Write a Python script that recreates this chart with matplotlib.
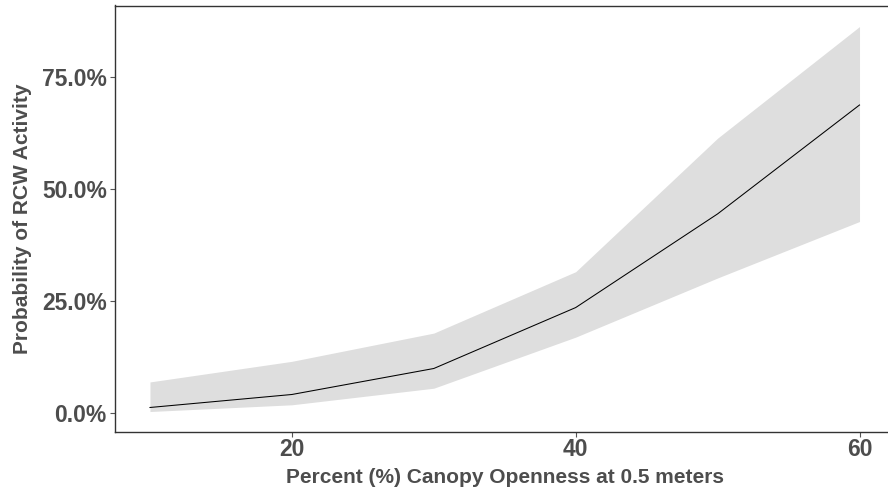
import numpy as np
import matplotlib
matplotlib.use("Agg")
import matplotlib.pyplot as plt
from matplotlib.ticker import PercentFormatter

# predicted probability with confidence band
openness = [10, 20, 30, 40, 50, 60]
prob_fit = [0.013, 0.042, 0.100, 0.236, 0.445, 0.688]
prob_lower = [0.004, 0.019, 0.056, 0.170, 0.302, 0.428]
prob_upper = [0.070, 0.116, 0.179, 0.316, 0.614, 0.863]

x_ticks = [20, 40, 60]
y_ticks = [0.0, 0.25, 0.50, 0.75]

TEXT_GREY = '#4D4D4D'
plt.rcParams['font.family'] = ['Liberation Sans', 'DejaVu Sans']
plt.rcParams['font.weight'] = 'bold'

fig = plt.figure(figsize=(8.88, 4.97), dpi=100)
ax = fig.add_axes([114.5 / 888, 65 / 497, (895 - 114.5) / 888, (432 - 5.5) / 497])

ax.fill_between(openness, prob_lower, prob_upper, color='#DEDEDE', linewidth=0)
ax.plot(openness, prob_fit, color='black', linewidth=0.75)

ax.set_xlim(7.5, 62.5)
ax.set_ylim(-0.0417, 0.910)
ax.set_xticks(x_ticks)
ax.set_yticks(y_ticks)
ax.yaxis.set_major_formatter(PercentFormatter(xmax=1, decimals=1))

for side in ['left', 'bottom', 'top']:
    ax.spines[side].set_color('#333333')
    ax.spines[side].set_linewidth(1.0)
ax.spines['right'].set_visible(False)

ax.tick_params(axis='both', which='major', length=3.5, width=0.8, color='#555555',
               labelsize=16.5, labelcolor=TEXT_GREY, pad=2)
ax.tick_params(axis='x', pad=1)

ax.set_xlabel('Percent (%) Canopy Openness at 0.5 meters', fontsize=15,
              fontweight='bold', color=TEXT_GREY, labelpad=5)
ax.set_ylabel('Probability of RCW Activity', fontsize=15,
              fontweight='bold', color=TEXT_GREY)
ax.yaxis.set_label_coords(-82 / 780.5, 0.5)

fig.savefig('out.png', dpi=100)
